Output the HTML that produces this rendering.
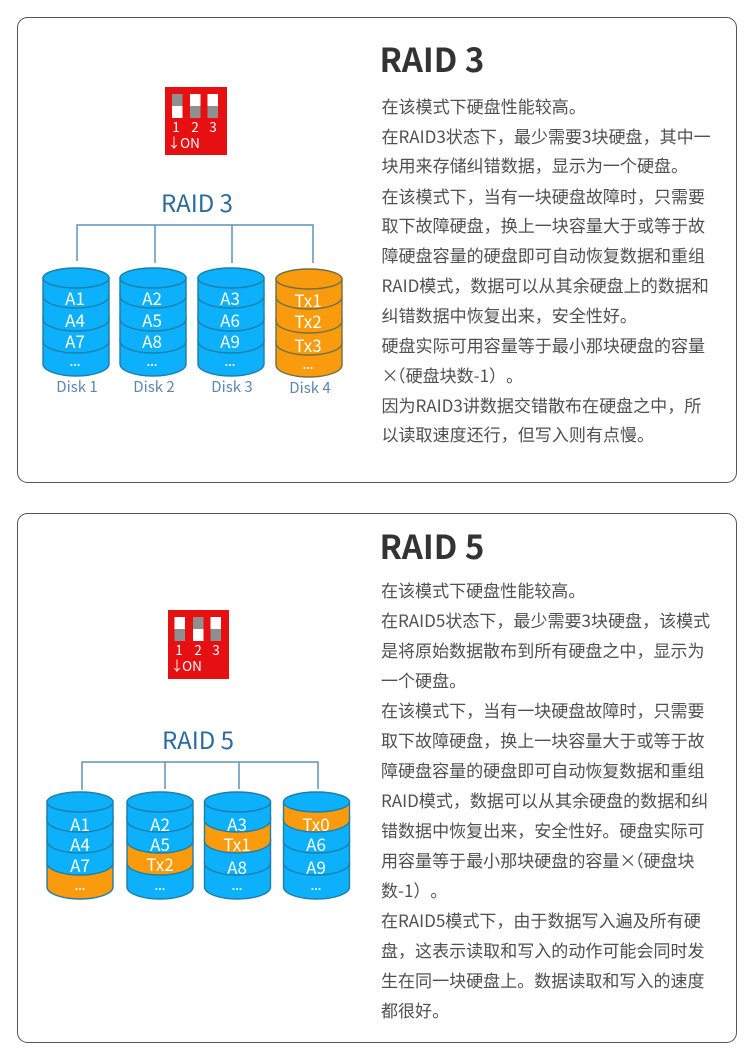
<!DOCTYPE html>
<html lang="zh-CN"><head><meta charset="utf-8"><title>RAID 3 / RAID 5</title>
<style>
html,body{margin:0;padding:0;background:#fff;width:750px;height:1054px;overflow:hidden}
svg{display:block}
text{font-family:"Noto Sans CJK SC","Liberation Sans",sans-serif;text-spacing-trim:space-all}
.b text{font-size:17.05px;fill:#505050}
.h{font-size:33px;font-weight:700;fill:#333}
.t{font-size:24px;fill:#2a6a9e}
.l{font-size:17px;fill:#fff;text-anchor:middle}
.dt{font-size:13px;font-weight:700;fill:#eaf6ff;text-anchor:middle;font-family:"Liberation Sans",sans-serif}
.d{font-size:15px;fill:#5d86b3;text-anchor:middle}
.n{font-size:13.5px;fill:#fff;text-anchor:middle}
.bl{fill:#0db0fb;stroke:#1c7ea9;stroke-width:1.4}
.or{fill:#f99b0c;stroke:#6d7048;stroke-width:1.4}
.ob{fill:#f99b0c;stroke:#1c7ea9;stroke-width:1.4}
.c{stroke:#5b93b9;stroke-width:1.5;fill:none}
</style></head><body>
<svg width="750" height="1054" viewBox="0 0 750 1054" xmlns="http://www.w3.org/2000/svg">
<defs>
<path id="s" d="M0 -24V0A33 12 0 0 0 66 0V-24Z"/>
<path id="s0" d="M0 -18V0A33 12 0 0 0 66 0V-18Z"/>
<ellipse id="e" cx="33" cy="0" rx="33" ry="10"/>
</defs>
<rect x="17.5" y="17.5" width="719" height="465" rx="10" fill="#fff" stroke="#555" stroke-width="1"/>
<rect x="17.5" y="513.5" width="719" height="529" rx="10" fill="#fff" stroke="#555" stroke-width="1"/>

<!-- RAID 3 diagram -->
<rect x="165" y="87" width="62" height="68" fill="#e60f12"/>
<rect x="172" y="94" width="10.5" height="24" fill="#fff"/><rect x="172" y="94" width="10.5" height="12" fill="#8f8f8f"/>
<rect x="190" y="94" width="10.5" height="24" fill="#fff"/><rect x="190" y="106" width="10.5" height="12" fill="#8f8f8f"/>
<rect x="207.5" y="94" width="10.5" height="24" fill="#fff"/><rect x="207.5" y="106" width="10.5" height="12" fill="#8f8f8f"/>
<text class="n" x="176" y="132">1</text><text class="n" x="195" y="132">2</text><text class="n" x="213" y="132">3</text>
<text class="n" x="174" y="148">↓</text><text class="n" x="190" y="148">ON</text>
<text class="t" x="197" y="212" text-anchor="middle">RAID 3</text>
<path class="c" d="M77 261V225H313V263M155 225V263M232 225V263"/>
<g class="bl" transform="translate(43,0)"><use href="#s" y="364"/><use href="#s" y="341"/><use href="#s" y="319"/><use href="#s0" y="296"/><use href="#e" y="278"/></g>
<g class="bl" transform="translate(120,0)"><use href="#s" y="364"/><use href="#s" y="341"/><use href="#s" y="319"/><use href="#s0" y="296"/><use href="#e" y="278"/></g>
<g class="bl" transform="translate(198,0)"><use href="#s" y="364"/><use href="#s" y="341"/><use href="#s" y="319"/><use href="#s0" y="296"/><use href="#e" y="278"/></g>
<g class="or" transform="translate(276,0)"><use href="#s" y="365"/><use href="#s" y="343"/><use href="#s" y="321"/><use href="#s0" y="297"/><use href="#e" y="279"/></g>
<text class="l" x="75" y="305">A1</text><text class="l" x="75" y="327">A4</text><text class="l" x="75" y="348">A7</text><text class="dt" x="75" y="366">...</text>
<text class="l" x="152" y="305">A2</text><text class="l" x="152" y="327">A5</text><text class="l" x="152" y="348">A8</text><text class="dt" x="152" y="366">...</text>
<text class="l" x="230" y="305">A3</text><text class="l" x="230" y="327">A6</text><text class="l" x="230" y="348">A9</text><text class="dt" x="230" y="366">...</text>
<text class="l" x="308" y="307">Tx1</text><text class="l" x="308" y="328">Tx2</text><text class="l" x="308" y="352">Tx3</text><text class="dt" x="308" y="369">...</text>
<text class="d" x="77" y="392">Disk 1</text><text class="d" x="154" y="392">Disk 2</text><text class="d" x="232" y="392">Disk 3</text><text class="d" x="310" y="393">Disk 4</text>

<!-- RAID 5 diagram -->
<rect x="168" y="610" width="61" height="69" fill="#e60f12"/>
<rect x="174.500" y="617" width="10.500" height="24" fill="#fff"/><rect x="174.500" y="629" width="10.500" height="12" fill="#8f8f8f"/>
<rect x="193" y="617" width="10.500" height="24" fill="#fff"/><rect x="193" y="617" width="10.500" height="12" fill="#8f8f8f"/>
<rect x="210.500" y="617" width="10.500" height="24" fill="#fff"/><rect x="210.500" y="629" width="10.500" height="12" fill="#8f8f8f"/>
<text class="n" x="179" y="655">1</text><text class="n" x="198" y="655">2</text><text class="n" x="216" y="655">3</text>
<text class="n" x="177" y="671">↓</text><text class="n" x="192" y="671">ON</text>
<text class="t" x="198" y="749" text-anchor="middle">RAID 5</text>
<path class="c" d="M82 790V762H318V789M165 762V789M239 762V789"/>
<g class="bl" transform="translate(47,0)"><use class="ob" href="#s" y="887"/><use href="#s" y="863"/><use href="#s" y="841"/><use href="#s0" y="820"/><use href="#e" y="802"/></g>
<g class="bl" transform="translate(127,0)"><use href="#s" y="887"/><use class="ob" href="#s" y="863"/><use href="#s" y="841"/><use href="#s0" y="820"/><use href="#e" y="802"/></g>
<g class="bl" transform="translate(204.500,0)"><use href="#s" y="887"/><use href="#s" y="863"/><use class="ob" href="#s" y="841"/><use href="#s0" y="820"/><use href="#e" y="802"/></g>
<g class="bl" transform="translate(283.500,0)"><use href="#s" y="887"/><use href="#s" y="863"/><use href="#s" y="841"/><use class="ob" href="#s0" y="820"/><use href="#e" y="802"/></g>
<text class="l" x="80" y="831">A1</text><text class="l" x="80" y="851">A4</text><text class="l" x="80" y="872">A7</text><text class="dt" x="80" y="890">...</text>
<text class="l" x="160" y="831">A2</text><text class="l" x="160" y="851">A5</text><text class="l" x="160" y="871">Tx2</text><text class="dt" x="160" y="890">...</text>
<text class="l" x="237" y="831">A3</text><text class="l" x="237" y="851">Tx1</text><text class="l" x="237" y="874">A8</text><text class="dt" x="237" y="890">...</text>
<text class="l" x="316" y="831">Tx0</text><text class="l" x="316" y="851">A6</text><text class="l" x="316" y="874">A9</text><text class="dt" x="316" y="890">...</text>

<!-- RAID 3 text -->
<text class="h" x="379.500" y="72">RAID 3</text>
<g class="b">
<text x="381.500" y="113">在该模式下硬盘性能较高。</text>
<text x="381.500" y="143">在RAID3状态下，最少需要3块硬盘，其中一</text>
<text x="381.500" y="172">块用来存储纠错数据，显示为一个硬盘。</text>
<text x="381.500" y="203">在该模式下，当有一块硬盘故障时，只需要</text>
<text x="381.500" y="232">取下故障硬盘，换上一块容量大于或等于故</text>
<text x="381.500" y="262">障硬盘容量的硬盘即可自动恢复数据和重组</text>
<text x="381.500" y="292">RAID模式，数据可以从其余硬盘上的数据和</text>
<text x="381.500" y="322">纠错数据中恢复出来，安全性好。</text>
<text x="381.500" y="352">硬盘实际可用容量等于最小那块硬盘的容量</text>
<text x="381.500" y="382">×<tspan dx="-10">（</tspan>硬盘块数-1）。</text>
<text x="381.500" y="412">因为RAID3讲数据交错散布在硬盘之中，所</text>
<text x="381.500" y="441">以读取速度还行，但写入则有点慢。</text>
</g>

<!-- RAID 5 text -->
<text class="h" x="379.500" y="559">RAID 5</text>
<g class="b">
<text x="381" y="597">在该模式下硬盘性能较高。</text>
<text x="381" y="627">在RAID5状态下，最少需要3块硬盘，该模式</text>
<text x="381" y="657">是将原始数据散布到所有硬盘之中，显示为</text>
<text x="381" y="687">一个硬盘。</text>
<text x="381" y="717">在该模式下，当有一块硬盘故障时，只需要</text>
<text x="381" y="747">取下故障硬盘，换上一块容量大于或等于故</text>
<text x="381" y="777">障硬盘容量的硬盘即可自动恢复数据和重组</text>
<text x="381" y="807">RAID模式，数据可以从其余硬盘的数据和纠</text>
<text x="381" y="837">错数据中恢复出来，安全性好。硬盘实际可</text>
<text x="381" y="867">用容量等于最小那块硬盘的容量×<tspan dx="-10">（</tspan>硬盘块</text>
<text x="381" y="897">数-1）。</text>
<text x="381" y="927">在RAID5模式下，由于数据写入遍及所有硬</text>
<text x="381" y="957">盘，这表示读取和写入的动作可能会同时发</text>
<text x="381" y="987">生在同一块硬盘上。数据读取和写入的速度</text>
<text x="381" y="1017">都很好。</text>
</g>
</svg>
</body></html>
